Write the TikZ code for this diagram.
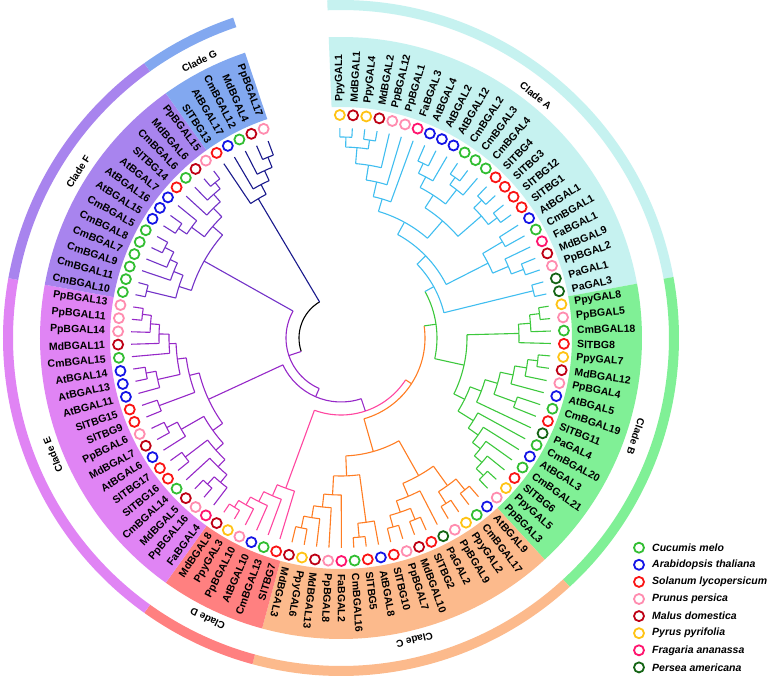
\documentclass[tikz,border=0pt]{standalone}
\usepackage{fontspec}
\setmainfont{Liberation Sans}
\definecolor{cA}{RGB}{64,190,240}
\definecolor{cB}{RGB}{60,200,60}
\definecolor{cC}{RGB}{255,125,35}
\definecolor{cD}{RGB}{255,70,160}
\definecolor{cE}{RGB}{150,40,200}
\definecolor{cF}{RGB}{115,50,200}
\definecolor{cG}{RGB}{25,25,140}
\definecolor{bgA}{RGB}{198,242,240}
\definecolor{bgB}{RGB}{128,240,150}
\definecolor{bgC}{RGB}{252,186,140}
\definecolor{bgD}{RGB}{255,128,128}
\definecolor{bgE}{RGB}{224,132,244}
\definecolor{bgF}{RGB}{168,132,238}
\definecolor{bgG}{RGB}{130,168,240}
\definecolor{spcm}{RGB}{50,190,50}
\definecolor{spat}{RGB}{20,20,230}
\definecolor{spsl}{RGB}{250,20,20}
\definecolor{sppp}{RGB}{255,140,175}
\definecolor{spmd}{RGB}{190,0,20}
\definecolor{sppy}{RGB}{255,195,20}
\definecolor{spfa}{RGB}{255,20,110}
\definecolor{sppa}{RGB}{20,100,20}
\tikzset{
  br/.style={line width=1.1pt},
  mk/.style={line width=1.8pt},
  lbl/.style={inner sep=0pt,font=\fontsize{10.5}{12}\selectfont\bfseries},
  cl/.style={inner sep=0pt,font=\fontsize{10}{12}\selectfont\bfseries},
  lg/.style={inner sep=0pt,anchor=west,font=\fontsize{10.5}{12}\selectfont\bfseries\itshape}
}
\def\tipR{210}
\newcommand\lf[2]{%
  \expandafter\xdef\csname I@L#1\endcsname{#1}%
  \expandafter\xdef\csname R@L#1\endcsname{\tipR}%
  \expandafter\xdef\csname C@L#1\endcsname{#2}}
\newcommand\bnsetup[4]{%
  \pgfmathsetmacro\bnIa{\csname I@#2\endcsname}%
  \pgfmathsetmacro\bnIb{\csname I@#3\endcsname}%
  \pgfmathsetmacro\bnIm{(\bnIa+\bnIb)/2}%
  \pgfmathsetmacro\bnAa{90.3-3.4*\bnIa}%
  \pgfmathsetmacro\bnAb{90.3-3.4*\bnIb}%
  \pgfmathsetmacro\bnAm{90.3-3.4*\bnIm}%
  \expandafter\xdef\csname I@#1\endcsname{\bnIm}%
  \expandafter\xdef\csname R@#1\endcsname{#4}%
  \edef\bnRa{\csname R@#2\endcsname}\edef\bnRb{\csname R@#3\endcsname}%
  \edef\bnCa{\csname C@#2\endcsname}\edef\bnCb{\csname C@#3\endcsname}}
% node with arc halves in the children's colours
\newcommand\bn[5]{%
  \bnsetup{#1}{#2}{#3}{#4}%
  \expandafter\xdef\csname C@#1\endcsname{#5}%
  \draw[br,color=\bnCa] (\bnAa:#4pt) arc[start angle=\bnAa, end angle=\bnAm, radius=#4pt];
  \draw[br,color=\bnCb] (\bnAm:#4pt) arc[start angle=\bnAm, end angle=\bnAb, radius=#4pt];
  \draw[br,color=\bnCa] (\bnAa:#4pt) -- (\bnAa:\bnRa pt);
  \draw[br,color=\bnCb] (\bnAb:#4pt) -- (\bnAb:\bnRb pt);}
% node with one arc colour (#6); #5 = colour of its own stem
\newcommand\bnc[6]{%
  \bnsetup{#1}{#2}{#3}{#4}%
  \expandafter\xdef\csname C@#1\endcsname{#5}%
  \draw[br,color=#6] (\bnAa:#4pt) arc[start angle=\bnAa, end angle=\bnAb, radius=#4pt];
  \draw[br,color=\bnCa] (\bnAa:#4pt) -- (\bnAa:\bnRa pt);
  \draw[br,color=\bnCb] (\bnAb:#4pt) -- (\bnAb:\bnRb pt);}
\newcommand\sect[3]{%
  \pgfmathsetmacro\sa{90.3-3.4*#1}\pgfmathsetmacro\sb{90.3-3.4*#2}%
  \fill[color=#3] (\sa:231pt) arc[start angle=\sa,end angle=\sb,radius=231pt] -- (\sb:301pt) arc[start angle=\sb,end angle=\sa,radius=301pt] -- cycle;
  \fill[color=#3] (\sa:328pt) arc[start angle=\sa,end angle=\sb,radius=328pt] -- (\sb:338pt) arc[start angle=\sb,end angle=\sa,radius=338pt] -- cycle;}
\newcommand\lab[3]{%
  \pgfmathsetmacro\la{90.3-3.4*#1}%
  \draw[mk,color=sp#2] (\la:223pt) circle[radius=5pt];
  \ifnum#1<58 \node[lbl,anchor=west,rotate=\la] at (\la:236pt) {#3};%
  \else \pgfmathsetmacro\lb{\la+180}\node[lbl,anchor=east,rotate=\lb] at (\la:236pt) {#3};\fi}
\newcommand\clab[2]{%
  \pgfmathsetmacro\ca{90.3-3.4*#1}\pgfmathsetmacro\cb{\ca-90}%
  \node[cl,rotate=\cb] at (\ca:311pt) {#2};}
\begin{document}
\begin{tikzpicture}
\fill[white] (-341pt,-339pt) rectangle (436pt,338pt);
\useasboundingbox (-341pt,-339pt) rectangle (436pt,338pt);
% clade backgrounds and outer ring
\sect{-0.6}{23.5}{bgA}
\sect{23.5}{40.5}{bgB}
\sect{40.5}{57.5}{bgC}
\sect{57.5}{63.5}{bgD}
\sect{63.5}{82.5}{bgE}
\sect{82.5}{95.5}{bgF}
\sect{95.5}{100.5}{bgG}
\clab{11.5}{Clade A}
\clab{32}{Clade B}
\clab{49}{Clade C}
\clab{60.5}{Clade D}
\clab{73}{Clade E}
\clab{89}{Clade F}
\clab{98}{Clade G}
% leaves
\foreach \i in {0,...,23}{\lf{\i}{cA}}
\foreach \i in {24,...,40}{\lf{\i}{cB}}
\foreach \i in {41,...,57}{\lf{\i}{cC}}
\foreach \i in {58,...,63}{\lf{\i}{cD}}
\foreach \i in {64,...,82}{\lf{\i}{cE}}
\foreach \i in {83,...,95}{\lf{\i}{cF}}
\foreach \i in {96,...,100}{\lf{\i}{cG}}
% clade A
\bn{a1}{L0}{L1}{201}{cA}
\bn{a2}{L2}{L3}{200}{cA}
\bn{a3}{a1}{a2}{191}{cA}
\bn{a4}{a3}{L4}{175}{cA}
\bn{a5}{a4}{L5}{160}{cA}
\bn{a6}{a5}{L6}{145}{cA}
\bn{a7}{L7}{L8}{193}{cA}
\bn{a8}{a7}{L9}{182}{cA}
\bn{a9}{L10}{L11}{197}{cA}
\bn{a10}{a9}{L12}{188}{cA}
\bn{a11}{a8}{a10}{170}{cA}
\bn{a12}{L13}{L14}{197}{cA}
\bn{a13}{L15}{L16}{197}{cA}
\bn{a14}{a12}{a13}{186}{cA}
\bn{a15}{a11}{a14}{155}{cA}
\bn{a16}{a6}{a15}{132}{cA}
\bn{a17}{L17}{L18}{188}{cA}
\bn{a18}{L20}{L21}{195}{cA}
\bn{a19}{L19}{a18}{182}{cA}
\bn{a20}{a17}{a19}{165}{cA}
\bn{a21}{a16}{a20}{118}{cA}
\bn{a22}{L22}{L23}{198}{cA}
\bn{nA}{a21}{a22}{106}{cA}
% clade B
\bn{b1}{L24}{L25}{200}{cB}
\bn{b2}{b1}{L26}{190}{cB}
\bn{b3}{b2}{L27}{178}{cB}
\bn{b4}{L28}{L29}{198}{cB}
\bn{b5}{b4}{L30}{188}{cB}
\bn{b6}{b5}{L31}{176}{cB}
\bn{b7}{L32}{L33}{186}{cB}
\bn{b8}{b6}{b7}{163}{cB}
\bn{b9}{b8}{L34}{150}{cB}
\bn{b10}{L39}{L40}{198}{cB}
\bn{b11}{L38}{b10}{188}{cB}
\bn{b12}{L37}{b11}{178}{cB}
\bn{b13}{L36}{b12}{168}{cB}
\bn{b14}{L35}{b13}{156}{cB}
\bn{b15}{b9}{b14}{138}{cB}
\bn{nB}{b3}{b15}{126}{cB}
% clade C
\bn{c1}{L41}{L42}{196}{cC}
\bn{c2}{L43}{L44}{196}{cC}
\bn{c3}{c1}{c2}{182}{cC}
\bn{c4}{L46}{L47}{196}{cC}
\bn{c5}{L48}{L49}{196}{cC}
\bn{c6}{c4}{c5}{184}{cC}
\bn{c7}{L45}{c6}{172}{cC}
\bn{c8}{c3}{c7}{158}{cC}
\bn{c9}{L51}{L52}{200}{cC}
\bn{c10}{L50}{c9}{186}{cC}
\bn{c11}{L56}{L57}{194}{cC}
\bn{c12}{L55}{c11}{182}{cC}
\bn{c13}{L54}{c12}{170}{cC}
\bn{c14}{L53}{c13}{157}{cC}
\bn{c15}{c10}{c14}{138}{cC}
\bn{nC}{c8}{c15}{118}{cC}
% clade D
\bn{d1}{L62}{L63}{200}{cD}
\bn{d2}{L61}{d1}{192}{cD}
\bn{d3}{L60}{d2}{183}{cD}
\bn{d4}{L59}{d3}{172}{cD}
\bn{nD}{L58}{d4}{160}{cD}
% clade E
\bn{e1}{L65}{L66}{198}{cE}
\bn{e2}{L64}{e1}{188}{cE}
\bn{e3}{e2}{L67}{178}{cE}
\bn{e4}{L68}{L69}{196}{cE}
\bn{e5}{e3}{e4}{168}{cE}
\bn{e6}{L71}{L72}{196}{cE}
\bn{e7}{L70}{e6}{184}{cE}
\bn{e8}{e5}{e7}{158}{cE}
\bn{e9}{L73}{L74}{194}{cE}
\bn{e10}{L76}{L77}{198}{cE}
\bn{e11}{L75}{e10}{188}{cE}
\bn{e12}{L81}{L82}{200}{cE}
\bn{e13}{L80}{e12}{191}{cE}
\bn{e14}{L79}{e13}{182}{cE}
\bn{e15}{L78}{e14}{172}{cE}
\bn{e16}{e11}{e15}{165}{cE}
\bn{e17}{e9}{e16}{156}{cE}
\bn{nE}{e8}{e17}{146}{cE}
% clade F
\bn{f1}{L83}{L84}{200}{cF}
\bn{f2}{L87}{L88}{198}{cF}
\bn{f3}{L86}{f2}{188}{cF}
\bn{f4}{L85}{f3}{180}{cF}
\bn{f5}{f1}{f4}{170}{cF}
\bn{f6}{L89}{L90}{196}{cF}
\bn{f7}{f6}{L91}{186}{cF}
\bn{f8}{L94}{L95}{200}{cF}
\bn{f9}{L93}{f8}{192}{cF}
\bn{f10}{L92}{f9}{182}{cF}
\bn{f11}{f7}{f10}{170}{cF}
\bn{nF}{f5}{f11}{157}{cF}
% clade G
\bn{g1}{L99}{L100}{195}{cG}
\bn{g2}{L98}{g1}{184}{cG}
\bn{g3}{L97}{g2}{173}{cG}
\bn{nG}{L96}{g3}{162}{cG}
% backbone
\bnc{W}{nA}{nB}{96}{cB}{cB}
\bnc{Z}{nC}{W}{84}{cC}{cC}
\bnc{M}{nD}{Z}{77}{cE}{cD}
\bnc{N}{nE}{M}{64}{cE}{cE}
\bnc{Y}{nF}{N}{55}{cE}{cE}
\bnc{R}{nG}{Y}{42}{black}{black}
% markers and labels
\lab{0}{py}{PpyGAL1}
\lab{1}{md}{MdBGAL1}
\lab{2}{py}{PpyGAL4}
\lab{3}{md}{MdBGAL2}
\lab{4}{pp}{PpBGAL12}
\lab{5}{pp}{PpBGAL1}
\lab{6}{fa}{FaBGAL3}
\lab{7}{at}{AtBGAL4}
\lab{8}{at}{AtBGAL2}
\lab{9}{at}{AtBGAL12}
\lab{10}{cm}{CmBGAL2}
\lab{11}{cm}{CmBGAL3}
\lab{12}{cm}{CmBGAL4}
\lab{13}{sl}{SlTBG4}
\lab{14}{sl}{SlTBG3}
\lab{15}{sl}{SlTBG12}
\lab{16}{sl}{SlTBG1}
\lab{17}{at}{AtBGAL1}
\lab{18}{cm}{CmBGAL1}
\lab{19}{fa}{FaBGAL1}
\lab{20}{md}{MdBGAL9}
\lab{21}{pp}{PpBGAL2}
\lab{22}{pa}{PaGAL1}
\lab{23}{pa}{PaGAL3}
\lab{24}{py}{PpyGAL8}
\lab{25}{pp}{PpBGAL5}
\lab{26}{cm}{CmBGAL18}
\lab{27}{sl}{SlTBG8}
\lab{28}{py}{PpyGAL7}
\lab{29}{md}{MdBGAL12}
\lab{30}{pp}{PpBGAL4}
\lab{31}{at}{AtBGAL5}
\lab{32}{cm}{CmBGAL19}
\lab{33}{sl}{SlTBG11}
\lab{34}{pa}{PaGAL4}
\lab{35}{cm}{CmBGAL20}
\lab{36}{at}{AtBGAL3}
\lab{37}{cm}{CmBGAL21}
\lab{38}{sl}{SlTBG6}
\lab{39}{py}{PpyGAL5}
\lab{40}{pp}{PpBGAL3}
\lab{41}{at}{AtBGAL9}
\lab{42}{cm}{CmBGAL17}
\lab{43}{py}{PpyGAL2}
\lab{44}{pp}{PpBGAL9}
\lab{45}{pa}{PaGAL2}
\lab{46}{sl}{SlTBG2}
\lab{47}{md}{MdBGAL10}
\lab{48}{pp}{PpBGAL7}
\lab{49}{sl}{SlTBG10}
\lab{50}{at}{AtBGAL8}
\lab{51}{sl}{SlTBG5}
\lab{52}{cm}{CmBGAL16}
\lab{53}{fa}{FaBGAL2}
\lab{54}{pp}{PpBGAL8}
\lab{55}{md}{MdBGAL13}
\lab{56}{py}{PpyGAL6}
\lab{57}{md}{MdBGAL3}
\lab{58}{sl}{SlTBG7}
\lab{59}{cm}{CmBGAL13}
\lab{60}{at}{AtBGAL10}
\lab{61}{pp}{PpBGAL10}
\lab{62}{py}{PpyGAL3}
\lab{63}{md}{MdBGAL8}
\lab{64}{fa}{FaBGAL4}
\lab{65}{pp}{PpBGAL16}
\lab{66}{md}{MdBGAL5}
\lab{67}{cm}{CmBGAL14}
\lab{68}{sl}{SlTBG16}
\lab{69}{sl}{SlTBG17}
\lab{70}{at}{AtBGAL6}
\lab{71}{md}{MdBGAL7}
\lab{72}{pp}{PpBGAL6}
\lab{73}{sl}{SlTBG9}
\lab{74}{sl}{SlTBG15}
\lab{75}{at}{AtBGAL11}
\lab{76}{at}{AtBGAL13}
\lab{77}{at}{AtBGAL14}
\lab{78}{cm}{CmBGAL15}
\lab{79}{md}{MdBGAL11}
\lab{80}{pp}{PpBGAL14}
\lab{81}{pp}{PpBGAL11}
\lab{82}{pp}{PpBGAL13}
\lab{83}{cm}{CmBGAL10}
\lab{84}{cm}{CmBGAL11}
\lab{85}{cm}{CmBGAL9}
\lab{86}{cm}{CmBGAL7}
\lab{87}{cm}{CmBGAL8}
\lab{88}{cm}{CmBGAL5}
\lab{89}{at}{AtBGAL15}
\lab{90}{at}{AtBGAL16}
\lab{91}{at}{AtBGAL7}
\lab{92}{sl}{SlTBG14}
\lab{93}{cm}{CmBGAL6}
\lab{94}{md}{MdBGAL6}
\lab{95}{pp}{PpBGAL15}
\lab{96}{sl}{SlTBG13}
\lab{97}{at}{AtBGAL17}
\lab{98}{cm}{CmBGAL12}
\lab{99}{md}{MdBGAL4}
\lab{100}{pp}{PpBGAL17}
% legend
\foreach \k/\c/\t in {0/cm/Cucumis melo,1/at/Arabidopsis thaliana,2/sl/Solanum lycopersicum,3/pp/Prunus persica,4/md/Malus domestica,5/py/Pyrus pyrifolia,6/fa/Fragaria ananassa,7/pa/Persea americana}{
  \draw[mk,color=sp\c] (298pt,-209.7pt-17.1pt*\k) circle[radius=5pt];
  \node[lg] (lg\k) at (311pt,-209.7pt-17.1pt*\k) {\t};
}
\end{tikzpicture}
\end{document}
